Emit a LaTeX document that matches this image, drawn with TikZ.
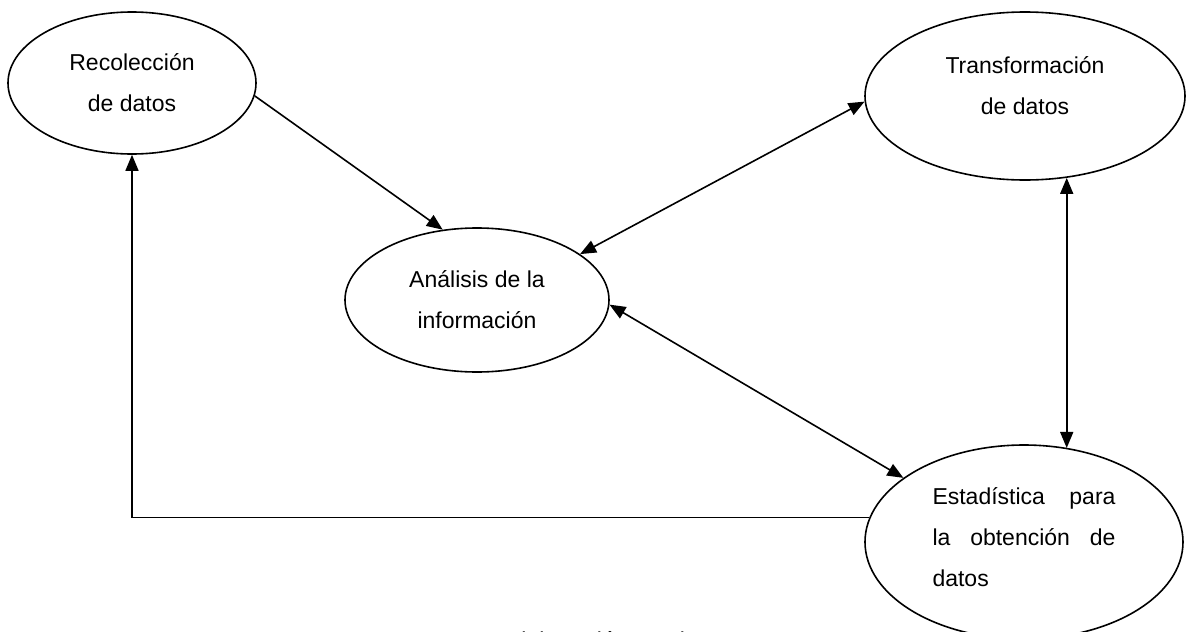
\documentclass[tikz,border=0pt]{standalone}
\usepackage{fontspec}
\setmainfont{Liberation Sans}
\usetikzlibrary{shapes,arrows.meta,positioning}

\begin{document}
\begin{tikzpicture}[x=1pt,y=-1pt,font=\fontsize{23pt}{41pt}\selectfont,
    line width=1.6pt, >={Triangle[length=16pt,width=13pt]},
    bubble/.style={ellipse, draw=black, inner sep=0pt, align=center}]

  \useasboundingbox (0,0) rectangle (1187,632);

  \node [bubble, minimum width=248pt, minimum height=142pt] (rec) at (132,83) {Recolección\\de datos};
  \node [bubble, minimum width=320pt, minimum height=168pt] (tra) at (1025,96) {Transformación\\de datos\\[-20pt]};
  \node [bubble, minimum width=264pt, minimum height=144pt] (ana) at (477,300) {Análisis de la\\información};

  \node [bubble, minimum width=318pt, minimum height=194pt] (est) at (1024,542) {};
  \node [text width=183pt, align=justify, inner sep=0pt] (esttxt) at (1024,537) {Estadística para\linebreak la obtención de\linebreak datos};

  % caption, cut at the lower edge
  \node [anchor=base west] (fuente) at (418,648) {Fuente: elaboración propia};

  \draw [->] (rec.-6) -- (ana.116);
  \draw [<->] (ana.24) -- (tra.182);
  \draw [<->] (ana.-2) -- (est.152);
  \draw [<->] (tra.-63) -- (tra.-63 |- est.65);
  \draw [->] (est.171) -| (rec.south);
\end{tikzpicture}
\end{document}
